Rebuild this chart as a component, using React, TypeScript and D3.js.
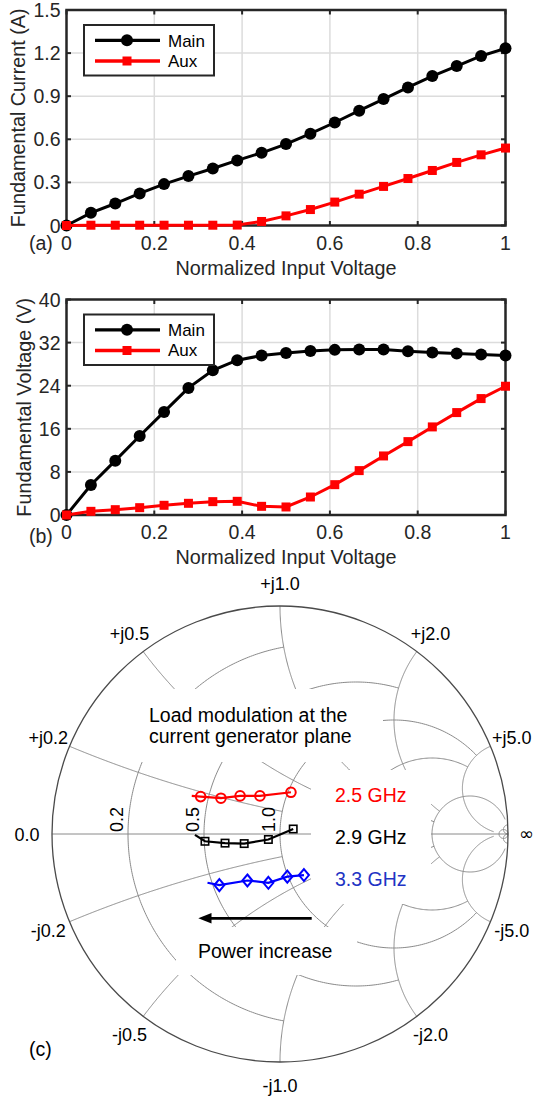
import React from 'react';
import * as d3 from 'd3';

const FONT = '"Liberation Sans", Arial, Helvetica, sans-serif';
const AXIS = '#262626';

// panels (a) and (b)
const inputVoltage = [0, 0.0556, 0.1111, 0.1667, 0.2222, 0.2778, 0.3333, 0.3889, 0.4444, 0.5,
  0.5556, 0.6111, 0.6667, 0.7222, 0.7778, 0.8333, 0.8889, 0.9444, 1];
const mainCurrent = [0, 0.088, 0.153, 0.223, 0.288, 0.344, 0.397, 0.453, 0.506, 0.567,
  0.639, 0.717, 0.799, 0.88, 0.961, 1.04, 1.11, 1.18, 1.233];
const auxCurrent = [0, 0.002, 0.002, 0.002, 0.002, 0.002, 0.002, 0.003, 0.028, 0.067,
  0.111, 0.163, 0.218, 0.272, 0.327, 0.383, 0.439, 0.492, 0.539];
const mainVoltage = [0, 5.57, 10.09, 14.67, 19.13, 23.59, 26.87, 28.73, 29.6, 30.09,
  30.46, 30.65, 30.71, 30.71, 30.4, 30.15, 29.97, 29.78, 29.6];
const auxVoltage = [0, 0.68, 0.99, 1.36, 1.8, 2.17, 2.48, 2.54, 1.61, 1.49,
  3.34, 5.63, 8.24, 10.96, 13.62, 16.35, 19.01, 21.61, 23.9];

const xTicks = [0, 0.2, 0.4, 0.6, 0.8, 1];
const currentTicks = [0, 0.3, 0.6, 0.9, 1.2, 1.5];
const voltageTicks = [0, 8, 16, 24, 32, 40];
const seriesNames = ['Main', 'Aux'];

// panel (c): smith chart grid values and load trajectories (reflection coefficient)
const smithValues = [0.2, 0.5, 1.0, 2.0, 5.0];
const smithEnds = [1.0, 2.0, 5.0, 5.0, 30];
const smithTiny = 50;
const freqLabels = ['2.5 GHz', '2.9 GHz', '3.3 GHz'];
// first point of every trace carries no marker
const trace25 = [[-0.387, 0.167], [-0.348, 0.164], [-0.259, 0.157], [-0.175, 0.167], [-0.088, 0.167], [0.048, 0.183]];
const trace29 = [[-0.373, -0.004], [-0.329, -0.032], [-0.241, -0.040], [-0.157, -0.042], [-0.051, -0.024], [0.058, 0.022]];
const trace33 = [[-0.318, -0.214], [-0.266, -0.224], [-0.143, -0.204], [-0.051, -0.214], [0.032, -0.187], [0.105, -0.180]];

const X_LEFT = 66.5;
const X_RIGHT = 505.5;

type PanelProps = {
  top: number; bottom: number; yTicks: number[]; main: number[]; aux: number[];
  yLabel: string; yLabelX: number; tag: string; tagY: number;
};

function LinePanel({ top, bottom, yTicks, main, aux, yLabel, yLabelX, tag, tagY }: PanelProps) {
  const x = d3.scaleLinear().domain([0, 1]).range([X_LEFT, X_RIGHT]);
  const y = d3.scaleLinear().domain([0, yTicks[yTicks.length - 1]]).range([bottom, top]);
  const line = d3.line<number>().x((_, i) => x(inputVoltage[i])).y(d => y(d));
  const tk = 4.5;
  const lgTop = top + 15;
  const lgLeft = 84;
  return (
    <g fontFamily={FONT}>
      {xTicks.slice(1, -1).map(t => (
        <line key={'gx' + t} x1={x(t)} x2={x(t)} y1={top} y2={bottom} stroke="#dcdcdc" strokeWidth={1.5} />
      ))}
      {yTicks.slice(1, -1).map(t => (
        <line key={'gy' + t} x1={X_LEFT} x2={X_RIGHT} y1={y(t)} y2={y(t)} stroke="#dcdcdc" strokeWidth={1.5} />
      ))}
      {xTicks.map(t => (
        <g key={'tx' + t} stroke={AXIS} strokeWidth={2}>
          <line x1={x(t)} x2={x(t)} y1={bottom} y2={bottom - tk} />
          <line x1={x(t)} x2={x(t)} y1={top} y2={top + tk} />
        </g>
      ))}
      {yTicks.map(t => (
        <g key={'ty' + t} stroke={AXIS} strokeWidth={2}>
          <line x1={X_LEFT} x2={X_LEFT + tk} y1={y(t)} y2={y(t)} />
          <line x1={X_RIGHT} x2={X_RIGHT - tk} y1={y(t)} y2={y(t)} />
        </g>
      ))}
      <rect x={X_LEFT} y={top} width={X_RIGHT - X_LEFT} height={bottom - top} fill="none" stroke={AXIS} strokeWidth={2.5} />
      {xTicks.map(t => (
        <text key={'lx' + t} x={x(t)} y={bottom + 24} textAnchor="middle" fontSize={19.5} fill={AXIS}>{String(t)}</text>
      ))}
      {yTicks.map(t => (
        <text key={'ly' + t} x={X_LEFT - 6} y={y(t) + 7} textAnchor="end" fontSize={19.5} fill={AXIS}>{String(t)}</text>
      ))}
      <text x={(X_LEFT + X_RIGHT) / 2} y={bottom + 49} textAnchor="middle" fontSize={19.8} fill={AXIS}>Normalized Input Voltage</text>
      <text transform={`translate(${yLabelX},${(top + bottom) / 2}) rotate(-90)`} textAnchor="middle" fontSize={19.8} fill={AXIS}>{yLabel}</text>
      <text x={29} y={tagY} fontSize={19.5} fill={AXIS}>{tag}</text>

      <path d={line(main) || ''} fill="none" stroke="#000" strokeWidth={3} />
      {main.map((d, i) => (
        <circle key={'m' + i} cx={x(inputVoltage[i])} cy={y(d)} r={6} fill="#000" />
      ))}
      <path d={line(aux) || ''} fill="none" stroke="#ff0000" strokeWidth={3} />
      {aux.map((d, i) => (
        <rect key={'a' + i} x={x(inputVoltage[i]) - 4.5} y={y(d) - 4.5} width={9} height={9} fill="#ff0000" />
      ))}

      <rect x={lgLeft} y={lgTop} width={130} height={50.5} fill="#fff" stroke={AXIS} strokeWidth={2} />
      <line x1={95} x2={160} y1={lgTop + 15.3} y2={lgTop + 15.3} stroke="#000" strokeWidth={3.3} />
      <circle cx={127} cy={lgTop + 15.3} r={6} fill="#000" />
      <text x={168} y={lgTop + 21.7} fontSize={17} fill="#000">{seriesNames[0]}</text>
      <line x1={95} x2={160} y1={lgTop + 36} y2={lgTop + 36} stroke="#ff0000" strokeWidth={3.3} />
      <rect x={127 - 4.5} y={lgTop + 36 - 4.5} width={9} height={9} fill="#ff0000" />
      <text x={168} y={lgTop + 41.7} fontSize={17} fill="#000">{seriesNames[1]}</text>
    </g>
  );
}

function gamma(r: number, x: number): [number, number] {
  const den = (r + 1) * (r + 1) + x * x;
  return [(r * r + x * x - 1) / den, (2 * x) / den];
}

function resistancePts(r: number, xEnd: number, n = 260): [number, number][] {
  const c = r / (1 + r);
  const rho = 1 / (1 + r);
  const g = gamma(r, xEnd);
  const t0 = Math.atan2(g[1], g[0] - c);
  const t1 = 2 * Math.PI - t0;
  return d3.range(n + 1).map(i => {
    const t = t0 + ((t1 - t0) * i) / n;
    return [c + rho * Math.cos(t), rho * Math.sin(t)] as [number, number];
  });
}

function reactancePts(x: number, rEnd: number, n = 260): [number, number][] {
  const s = Math.sign(x);
  const ax = Math.abs(x);
  const cy = 1 / ax;
  const ang = (g: [number, number]) => {
    let a = Math.atan2(g[1] - cy, g[0] - 1);
    if (a < 0) a += 2 * Math.PI;
    return a;
  };
  const a0 = ang(gamma(0, ax));
  const a1 = ang(gamma(rEnd, ax));
  return d3.range(n + 1).map(i => {
    const t = a0 + ((a1 - a0) * i) / n;
    return [1 + cy * Math.cos(t), s * (cy + cy * Math.sin(t))] as [number, number];
  });
}

function SmithPanel() {
  const gx = d3.scaleLinear().domain([-1, 1]).range([52, 508]);
  const gy = d3.scaleLinear().domain([-1, 1]).range([1062, 606]);
  const R = (gx(1) - gx(-1)) / 2;
  const cx = gx(0);
  const cy = gy(0);
  const path = d3.line<[number, number]>().x(d => gx(d[0])).y(d => gy(d[1]));
  const grid = '#8a8a8a';

  const arcs: string[] = [];
  smithValues.forEach((v, i) => {
    arcs.push(path(resistancePts(v, smithEnds[i])) || '');
    arcs.push(path(reactancePts(v, smithEnds[i])) || '');
    arcs.push(path(reactancePts(-v, smithEnds[i])) || '');
  });
  arcs.push(path(resistancePts(smithTiny, 1e9)) || '');
  arcs.push(path(reactancePts(smithTiny, 1e9)) || '');
  arcs.push(path(reactancePts(-smithTiny, 1e9)) || '');

  // rim labels placed just outside the unit circle
  const rim: { label: string; g: [number, number]; d: number }[] = [];
  rim.push({ label: '0.0', g: [-1, 0], d: 25 });
  smithValues.forEach(v => {
    rim.push({ label: '+j' + v.toFixed(1), g: gamma(0, v), d: 23 });
    rim.push({ label: '-j' + v.toFixed(1), g: gamma(0, -v), d: 23 });
  });

  const traces = [
    { pts: trace25, color: '#ff0000', marker: 'circle' },
    { pts: trace29, color: '#000000', marker: 'square' },
    { pts: trace33, color: '#0000ff', marker: 'diamond' },
  ];

  const arrowY = 918.3;

  return (
    <g fontFamily={FONT}>
      <line x1={gx(-1)} x2={gx(1)} y1={cy} y2={cy} stroke={grid} strokeWidth={1} />
      {arcs.map((d, i) => (
        <path key={'arc' + i} d={d} fill="none" stroke={grid} strokeWidth={1} />
      ))}
      <circle cx={cx} cy={cy} r={R} fill="none" stroke="#4a4a4a" strokeWidth={1.3} />
      {smithValues.map(v => {
        const px = gx((v - 1) / (v + 1)) - 5;
        return (
          <text key={'rl' + v} transform={`translate(${px},${cy - 2}) rotate(-90)`} fontSize={18} fill="#000">{v.toFixed(1)}</text>
        );
      })}

      <rect x={137} y={689} width={246} height={73} fill="#fff" />
      <rect x={311} y={770} width={120} height={134} fill="#fff" />
      <rect x={176} y={927} width={181} height={48} fill="#fff" />

      <text x={149} y={721.7} fontSize={19.5} fill="#000">Load modulation at the</text>
      <text x={149} y={743.3} fontSize={19.5} fill="#000">current generator plane</text>
      <text x={335} y={802.3} fontSize={19.5} fill="#ff0000">{freqLabels[0]}</text>
      <text x={335} y={844} fontSize={19.5} fill="#000">{freqLabels[1]}</text>
      <text x={335} y={886} fontSize={19.5} fill="#2233c4">{freqLabels[2]}</text>
      <text x={198} y={958.3} fontSize={19.5} fill="#000">Power increase</text>

      <line x1={311.7} x2={208} y1={arrowY} y2={arrowY} stroke="#000" strokeWidth={2.8} />
      <polygon points={`198.3,${arrowY} 211.5,${arrowY - 5.2} 211.5,${arrowY + 5.2}`} fill="#000" />

      {traces.map((t, ti) => (
        <g key={'tr' + ti}>
          <path d={path(t.pts as [number, number][]) || ''} fill="none" stroke={t.color} strokeWidth={2.2} />
          {t.pts.slice(1).map((p, i) => {
            const px = gx(p[0]);
            const py = gy(p[1]);
            if (t.marker === 'circle') {
              return <circle key={i} cx={px} cy={py} r={4.8} fill="none" stroke={t.color} strokeWidth={2} />;
            }
            if (t.marker === 'square') {
              return <rect key={i} x={px - 3.7} y={py - 3.7} width={7.4} height={7.4} fill="none" stroke={t.color} strokeWidth={1.6} />;
            }
            return (
              <polygon key={i} points={`${px},${py - 6} ${px + 5},${py} ${px},${py + 6} ${px - 5},${py}`} fill="none" stroke={t.color} strokeWidth={2} />
            );
          })}
        </g>
      ))}

      {rim.map(l => {
        const len = Math.hypot(l.g[0], l.g[1]);
        const ux = l.g[0] / len;
        const uy = l.g[1] / len;
        const px = gx(l.g[0]) + ux * l.d;
        const py = gy(l.g[1]) - uy * l.d;
        return (
          <text key={'rim' + l.label} x={px} y={py + 6.5} textAnchor="middle" fontSize={18} fill="#000">{l.label}</text>
        );
      })}
      <text x={gx(1) + 11} y={cy + 6} fontSize={18} fontFamily='"DejaVu Sans", sans-serif' fill="#000">{'\u221E'}</text>
      <text x={29} y={1056} fontSize={19.5} fill="#000">(c)</text>
    </g>
  );
}

export default function App() {
  return (
    <svg width={537} height={1100} viewBox="0 0 537 1100"
      style={{ position: 'absolute', left: 0, top: 0, background: '#fff' }}>
      <rect width={537} height={1100} fill="#fff" />
      <LinePanel top={10} bottom={225.5} yTicks={currentTicks} main={mainCurrent} aux={auxCurrent}
        yLabel="Fundamental Current (A)" yLabelX={25} tag="(a)" tagY={250} />
      <LinePanel top={299.5} bottom={515} yTicks={voltageTicks} main={mainVoltage} aux={auxVoltage}
        yLabel="Fundamental Voltage (V)" yLabelX={31} tag="(b)" tagY={543} />
      <SmithPanel />
    </svg>
  );
}
